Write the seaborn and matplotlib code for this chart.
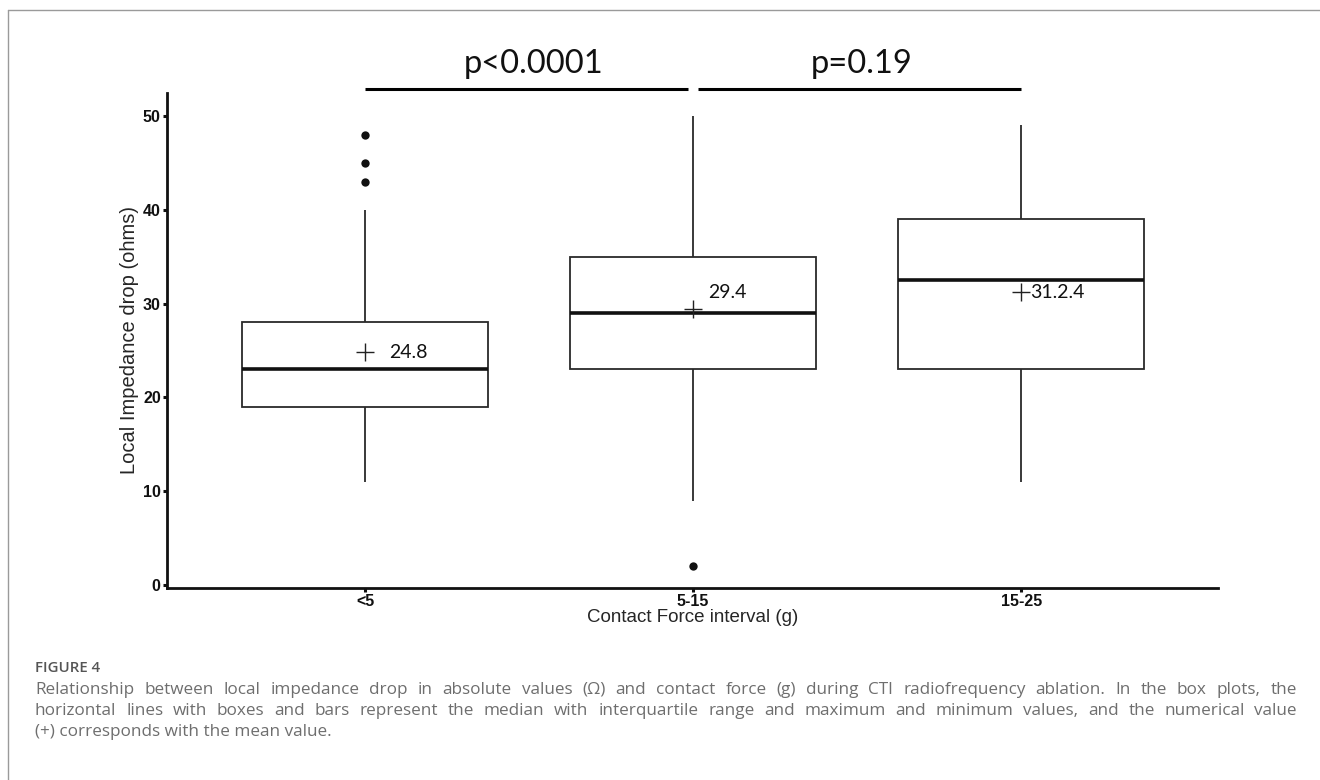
import numpy as np
import pandas as pd
import matplotlib
matplotlib.use("Agg")
import matplotlib.pyplot as plt
from matplotlib.lines import Line2D
import seaborn as sns

# ---------------- data ----------------
categories = ["<5", "5-15", "15-25"]
# five-number summaries: whisker min, Q1, median, Q3, whisker max
whisker_low = [11, 9, 11]
q1_values = [19, 23, 23]
median_values = [23, 29, 32.5]
q3_values = [28, 35, 39]
whisker_high = [40, 50, 49]
mean_values = [24.8, 29.4, 31.2]
mean_labels = ["24.8", "29.4", "31.2.4"]
outlier_groups = ["<5", "<5", "<5", "5-15"]
outlier_values = [48, 45, 43, 2]
comparisons = [("<5", "5-15"), ("5-15", "15-25")]
p_labels = ["p<0.0001", "p=0.19"]

x_label = "Contact Force interval (g)"
y_label = "Local Impedance drop (ohms)"
y_ticks = [0, 10, 20, 30, 40, 50]
figure_title = "FIGURE 4"
caption_lines = [
    "Relationship between local impedance drop in absolute values (\u03a9) and contact force (g) during CTI radiofrequency ablation. In the box plots, the",
    "horizontal lines with boxes and bars represent the median with interquartile range and maximum and minimum values, and the numerical value",
    "(+) corresponds with the mean value.",
]

# ---------------- build table ----------------
rows = []
for i, c in enumerate(categories):
    for v in (whisker_low[i], q1_values[i], median_values[i], q3_values[i], whisker_high[i]):
        rows.append({"group": c, "value": v})
df = pd.DataFrame(rows)

sns.set_theme(style="ticks")
plt.rcParams["font.family"] = ["Liberation Sans", "DejaVu Sans"]

W, H = 1320, 780
fig = plt.figure(figsize=(W / 100, H / 100), dpi=100)
ax = fig.add_axes([167 / W, 1 - 588 / H, (1218 - 167) / W, (588 - 93) / H])

edge = "#2a2a2a"
sns.boxplot(
    data=df, x="group", y="value", order=categories, ax=ax,
    width=0.75, whis=np.inf, showcaps=False, showfliers=False,
    color="white", linecolor=edge, linewidth=1.3,
    boxprops=dict(facecolor="white", edgecolor=edge, linewidth=1.3),
    whiskerprops=dict(color=edge, linewidth=1.3),
    medianprops=dict(color="#111111", linewidth=2.6),
)

sns.stripplot(
    x=outlier_groups, y=outlier_values, order=categories, ax=ax,
    jitter=False, color="#111111", size=6, linewidth=0,
)

xpos = np.arange(len(categories))
ax.plot(xpos, mean_values, ls="none", marker="+", ms=12.5, mew=1.0,
        color="#222222", zorder=5)

label_offsets = [(24, 0), (15, 17), (9, 0)]  # pixel offsets of mean labels
for i, lab in enumerate(mean_labels):
    dx, dy = label_offsets[i]
    ax.annotate(lab, (xpos[i], mean_values[i]), xytext=(dx * 0.72, dy * 0.72),
                textcoords="offset points", ha="left", va="center",
                fontsize=14, family=["Lato", "DejaVu Sans"], color="#111111")

# significance bars
bar_y = 52.85
bar_gap = 0.015
for (a, b), lab in zip(comparisons, p_labels):
    ia, ib = categories.index(a), categories.index(b)
    x0 = ia + (bar_gap if ia == 1 else 0)
    x1 = ib - (bar_gap if ib == 1 else 0)
    ax.plot([x0, x1], [bar_y, bar_y], color="black", lw=2.2,
            clip_on=False, solid_capstyle="butt")
    ax.text((ia + ib) / 2 + 0.015, 54.6, lab, ha="center", va="baseline",
            fontsize=23.5, family=["Lato", "DejaVu Sans"], color="#111111",
            clip_on=False)

ax.set_xlim(-0.604, 2.6)
ax.set_ylim(-0.32, 52.45)
ax.set_yticks(y_ticks)
ax.set_xlabel(x_label, fontsize=13.5, labelpad=0)
ax.set_ylabel(y_label, fontsize=14.5, labelpad=3)
for s in ["top", "right"]:
    ax.spines[s].set_visible(False)
for s in ["left", "bottom"]:
    ax.spines[s].set_linewidth(2.0)
    ax.spines[s].set_color("#111111")
ax.tick_params(axis="both", length=3, width=2.2, pad=1.5, labelsize=11.5,
               colors="#111111")
for t in ax.get_xticklabels() + ax.get_yticklabels():
    t.set_fontweight("bold")
ax.grid(False)

# outer frame (light grey)
fig.add_artist(Line2D([8 / W, 1.0], [1 - 10 / H, 1 - 10 / H],
                      transform=fig.transFigure, color="#9a9a9a", lw=1.0))
fig.add_artist(Line2D([8 / W, 8 / W], [0.0, 1 - 10 / H],
                      transform=fig.transFigure, color="#9a9a9a", lw=1.0))

# caption
cap_font = ["Open Sans", "DejaVu Sans"]
cap_color = "#6e6e6e"
cap_size = 12.3
fig.text(35 / W, 1 - 668 / H, figure_title, ha="left", va="center",
         fontsize=10.8, family=cap_font, fontweight="semibold", color="#555555")

left_px, right_px = 35, 1297
line_y = [690, 711, 732]
fig.canvas.draw()
renderer = fig.canvas.get_renderer()
for li, line in enumerate(caption_lines):
    y = 1 - line_y[li] / H
    justify = li < len(caption_lines) - 1
    if not justify:
        fig.text(left_px / W, y, line, ha="left", va="center", fontsize=cap_size,
                 family=cap_font, color=cap_color)
        continue
    words = line.split(" ")
    texts = [fig.text(0, y, w, ha="left", va="center", fontsize=cap_size,
                      family=cap_font, color=cap_color) for w in words]
    widths = [t.get_window_extent(renderer=renderer).width for t in texts]
    gap = (right_px - left_px - sum(widths)) / (len(words) - 1)
    x = left_px
    for t, w in zip(texts, widths):
        t.set_x(x / W)
        x += w + gap

fig.savefig("out.png", dpi=100)
